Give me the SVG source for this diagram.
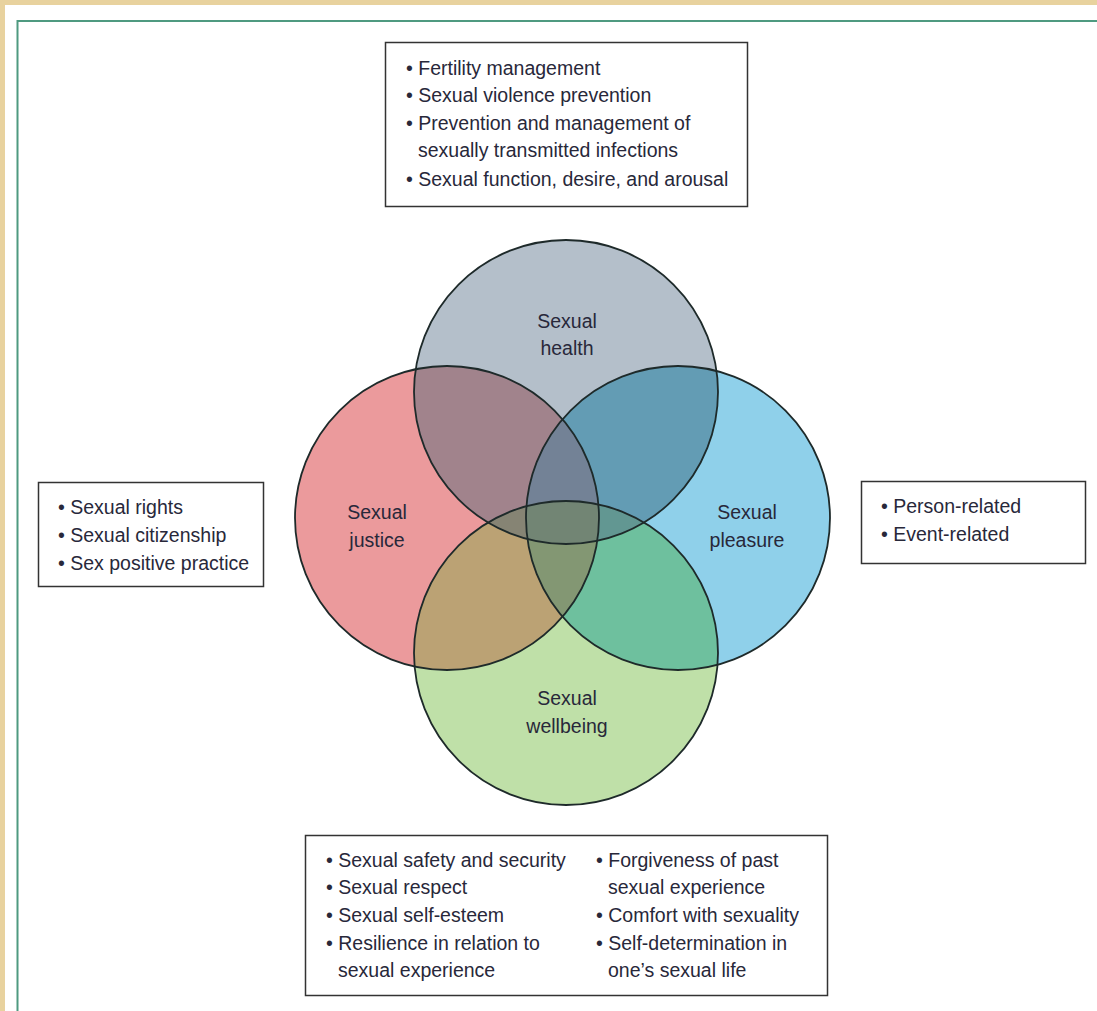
<svg xmlns="http://www.w3.org/2000/svg" width="1097" height="1011" viewBox="0 0 1097 1011">
<style>
.t{font-family:"Liberation Sans",Arial,sans-serif;font-size:19.5px;fill:#28283a}
.c{text-anchor:middle}
.box{fill:#fff;stroke:#333;stroke-width:1.5}
.ol{fill:none;stroke:#1e2a2a;stroke-width:1.8}
</style>
<defs>
<circle id="H" cx="566" cy="392" r="152"/>
<circle id="J" cx="447" cy="518" r="152"/>
<circle id="P" cx="678" cy="518" r="152"/>
<circle id="W" cx="566" cy="653" r="152"/>
<clipPath id="cH"><use href="#H"/></clipPath>
<clipPath id="cJ"><use href="#J"/></clipPath>
<clipPath id="cP"><use href="#P"/></clipPath>
<clipPath id="cW"><use href="#W"/></clipPath>
</defs>
<rect x="0" y="0" width="1097" height="1011" fill="#e8d29e"/>
<rect x="5" y="5" width="1092" height="1006" fill="#ffffff"/>
<path d="M17.5 1011 V21 H1097" fill="none" stroke="#4f9a80" stroke-width="2"/>

<g id="health"><use href="#H" fill="#b4bfca"/></g>
<g id="justice"><use href="#J" fill="#eb9a9c"/></g>
<g id="pleasure"><use href="#P" fill="#8fd0ea"/></g>
<g id="wellbeing"><use href="#W" fill="#bfe0a8"/></g>

<g id="overlaps">
<g clip-path="url(#cH)"><use href="#J" fill="#a1838c"/></g>
<g clip-path="url(#cH)"><use href="#P" fill="#639cb4"/></g>
<g clip-path="url(#cJ)"><use href="#W" fill="#bba274"/></g>
<g clip-path="url(#cP)"><use href="#W" fill="#6ec09e"/></g>
<g clip-path="url(#cH)"><use href="#W" fill="#74867a"/></g>
<g clip-path="url(#cJ)"><use href="#P" fill="#74867a"/></g>
<g clip-path="url(#cH)"><g clip-path="url(#cJ)"><use href="#P" fill="#738296"/></g></g>
<g clip-path="url(#cH)"><g clip-path="url(#cJ)"><use href="#W" fill="#868474"/></g></g>
<g clip-path="url(#cH)"><g clip-path="url(#cP)"><use href="#W" fill="#629792"/></g></g>
<g clip-path="url(#cJ)"><g clip-path="url(#cP)"><use href="#W" fill="#839773"/></g></g>
<g clip-path="url(#cH)"><g clip-path="url(#cJ)"><g clip-path="url(#cP)"><use href="#W" fill="#728574"/></g></g></g>
</g>

<g id="outlines">
<use href="#H" class="ol"/>
<use href="#J" class="ol"/>
<use href="#P" class="ol"/>
<use href="#W" class="ol"/>
</g>
<g id="labels">
<text class="t c" x="567" y="328">Sexual</text>
<text class="t c" x="567" y="355">health</text>
<text class="t c" x="377" y="519">Sexual</text>
<text class="t c" x="377" y="547">justice</text>
<text class="t c" x="747" y="519">Sexual</text>
<text class="t c" x="747" y="547">pleasure</text>
<text class="t c" x="567" y="705">Sexual</text>
<text class="t c" x="567" y="733">wellbeing</text>
</g>

<g id="box-health">
<rect class="box" x="385.5" y="42.5" width="362" height="164"/>
<text class="t" x="406" y="75">• Fertility management</text>
<text class="t" x="406" y="102">• Sexual violence prevention</text>
<text class="t" x="406" y="130">• Prevention and management of</text>
<text class="t" x="418" y="157">sexually transmitted infections</text>
<text class="t" x="406" y="186">• Sexual function, desire, and arousal</text>
</g>
<g id="box-justice">
<rect class="box" x="38.5" y="482.5" width="225" height="104"/>
<text class="t" x="58" y="514">• Sexual rights</text>
<text class="t" x="58" y="542">• Sexual citizenship</text>
<text class="t" x="58" y="570">• Sex positive practice</text>
</g>
<g id="box-pleasure">
<rect class="box" x="861.5" y="481.5" width="224" height="82"/>
<text class="t" x="881" y="513">• Person-related</text>
<text class="t" x="881" y="541">• Event-related</text>
</g>
<g id="box-wellbeing">
<rect class="box" x="305.5" y="835.5" width="522" height="160"/>
<text class="t" x="326" y="867">• Sexual safety and security</text>
<text class="t" x="326" y="894">• Sexual respect</text>
<text class="t" x="326" y="922">• Sexual self-esteem</text>
<text class="t" x="326" y="950">• Resilience in relation to</text>
<text class="t" x="338" y="977">sexual experience</text>
<text class="t" x="596" y="867">• Forgiveness of past</text>
<text class="t" x="608" y="894">sexual experience</text>
<text class="t" x="596" y="922">• Comfort with sexuality</text>
<text class="t" x="596" y="950">• Self-determination in</text>
<text class="t" x="608" y="977">one’s sexual life</text>
</g>
</svg>
